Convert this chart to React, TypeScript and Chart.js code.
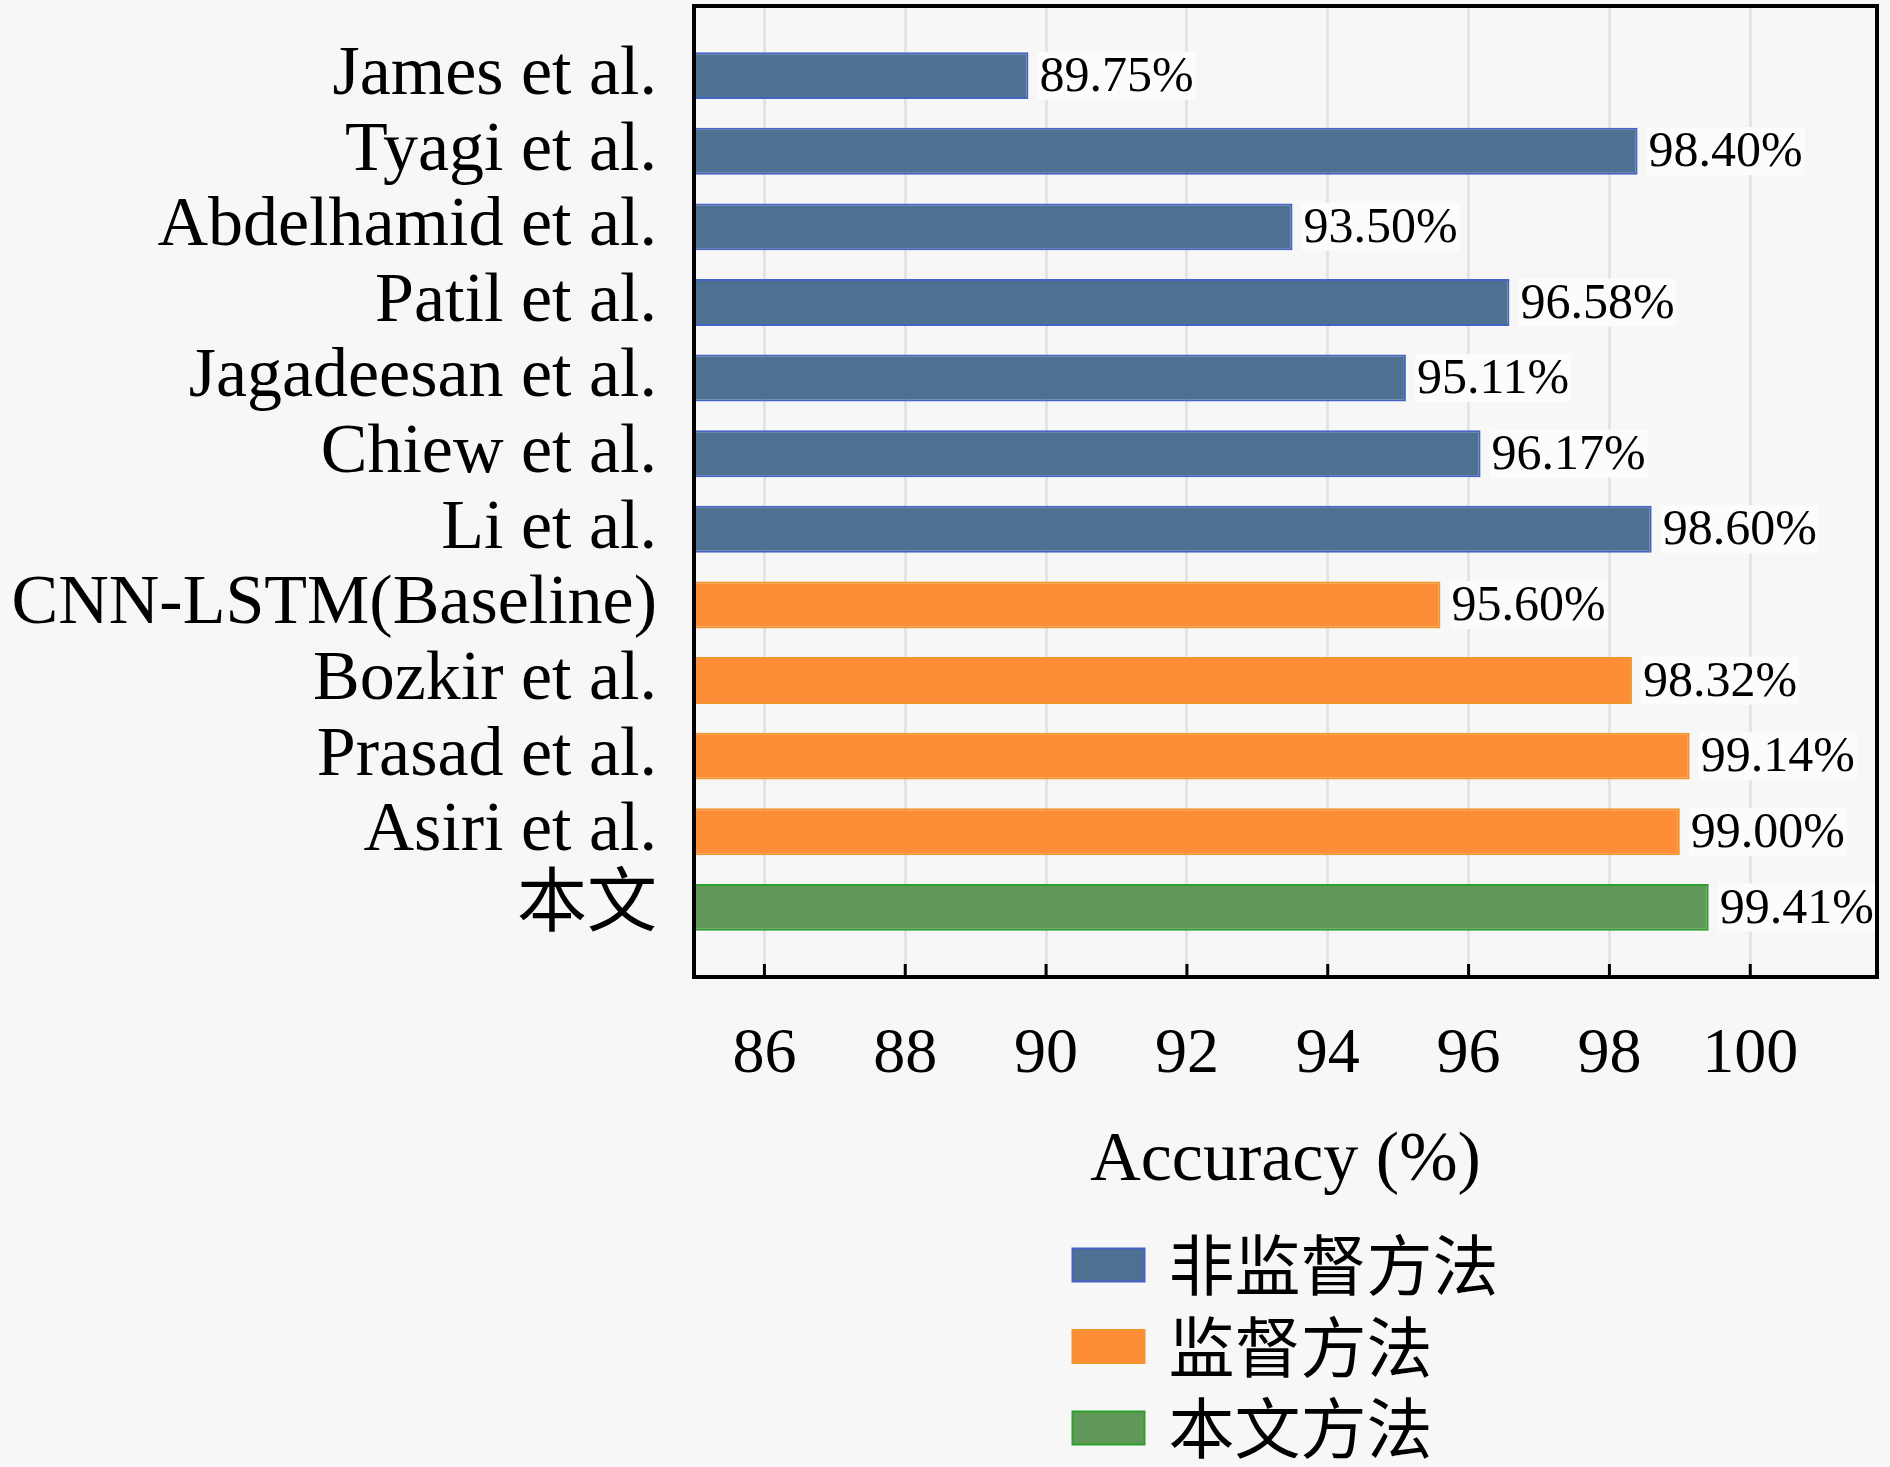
import React, { useEffect, useRef } from "react";
import { Chart, registerables } from "chart.js";

Chart.register(...registerables);

// methods, top to bottom
const methods = [
  "James et al.",
  "Tyagi et al.",
  "Abdelhamid et al.",
  "Patil et al.",
  "Jagadeesan et al.",
  "Chiew et al.",
  "Li et al.",
  "CNN-LSTM(Baseline)",
  "Bozkir et al.",
  "Prasad et al.",
  "Asiri et al.",
  "本文",
];
const accuracy = [89.75, 98.4, 93.5, 96.58, 95.11, 96.17, 98.6, 95.6, 98.32, 99.14, 99.0, 99.41];
const groupOf = [0, 0, 0, 0, 0, 0, 0, 1, 1, 1, 1, 2];
const groupNames = ["非监督方法", "监督方法", "本文方法"];
const xTicks = [86, 88, 90, 92, 94, 96, 98, 100];

const fills = ["#4e7191", "#fd8d36", "#619759"];
const edges = ["#4563c6", "#f0962a", "#2ca02c"];

const SERIF = '"Liberation Serif", "Noto Sans CJK SC", serif';
const CJK = '"Noto Sans CJK SC", sans-serif';

const decorPlugin = {
  id: "decor",
  afterDatasetsDraw(chart: any) {
    const { ctx, chartArea: a, scales } = chart;
    ctx.save();
    // value labels at bar ends
    ctx.font = `50px ${SERIF}`;
    ctx.textBaseline = "middle";
    ctx.textAlign = "left";
    chart.data.datasets.forEach((ds: any, di: number) => {
      chart.getDatasetMeta(di).data.forEach((bar: any, i: number) => {
        const txt = ds.data[i].x.toFixed(2) + "%";
        const w = ctx.measureText(txt).width;
        ctx.fillStyle = "#fcfcfc";
        ctx.fillRect(bar.x + 9, bar.y - 24, w + 4, 48);
        ctx.fillStyle = "#000";
        ctx.fillText(txt, bar.x + 11, bar.y + 2);
      });
    });
    // inward tick marks on the bottom axis
    ctx.strokeStyle = "#000";
    ctx.lineWidth = 3;
    scales.x.ticks.forEach((t: any) => {
      const px = scales.x.getPixelForValue(t.value);
      ctx.beginPath();
      ctx.moveTo(px, a.bottom);
      ctx.lineTo(px, a.bottom - 13);
      ctx.stroke();
    });
    // frame
    ctx.lineWidth = 4;
    ctx.strokeRect(a.left, a.top, a.right - a.left, a.bottom - a.top);
    ctx.restore();
  },
  afterDraw(chart: any) {
    const { ctx, chartArea: a, scales } = chart;
    ctx.save();
    ctx.font = `66px ${CJK}`;
    const textW = Math.max(...groupNames.map((n) => ctx.measureText(n).width));
    const boxW = 72;
    const boxH = 33;
    const gap = 24;
    const left = (a.left + a.right) / 2 - (boxW + gap + textW) / 2;
    let y = scales.x.bottom + 38;
    groupNames.forEach((name, g) => {
      ctx.fillStyle = fills[g];
      ctx.fillRect(left, y - boxH / 2, boxW, boxH);
      ctx.strokeStyle = edges[g];
      ctx.lineWidth = 2;
      ctx.strokeRect(left, y - boxH / 2, boxW, boxH);
      ctx.fillStyle = "#000";
      ctx.textBaseline = "middle";
      ctx.textAlign = "left";
      ctx.fillText(name, left + boxW + gap, y);
      y += 81.5;
    });
    ctx.restore();
  },
};

const App: React.FC = () => {
  const canvasRef = useRef<HTMLCanvasElement | null>(null);

  useEffect(() => {
    if (!canvasRef.current) return;

    const datasets = groupNames.map((name, g) => ({
      label: name,
      data: accuracy
        .map((v, i) => ({ x: v, y: i, g: groupOf[i] }))
        .filter((p) => p.g === g),
      backgroundColor: fills[g],
      borderColor: edges[g],
      borderWidth: 2,
      grouped: false,
      categoryPercentage: 1,
      barPercentage: 0.62,
    }));

    const chart = new Chart(canvasRef.current, {
      type: "bar",
      data: { datasets },
      options: {
        indexAxis: "y",
        animation: false,
        responsive: true,
        maintainAspectRatio: false,
        layout: { padding: { top: 6, right: 13, left: 0, bottom: 240 } },
        plugins: {
          legend: { display: false },
          tooltip: { enabled: false },
        },
        scales: {
          x: {
            type: "linear",
            min: 85,
            max: 101.8,
            border: { display: false },
            grid: { color: "#e4e4e4", lineWidth: 3, drawTicks: false },
            afterBuildTicks: (scale: any) => {
              scale.ticks = xTicks.map((v) => ({ value: v }));
            },
            afterFit: (scale: any) => {
              scale.height = 250;
              scale.paddingLeft = 0;
              scale.paddingRight = 0;
            },
            ticks: {
              autoSkip: false,
              maxRotation: 0,
              padding: 46,
              color: "#000",
              font: { family: SERIF, size: 64, lineHeight: 1 },
            },
            title: {
              display: true,
              text: "Accuracy (%)",
              color: "#000",
              font: { family: SERIF, size: 70, lineHeight: 1 },
              padding: { top: 0, bottom: 30 },
            },
          },
          y: {
            type: "linear",
            reverse: true,
            offset: false,
            min: -0.92,
            max: 11.92,
            border: { display: false },
            grid: { display: false, drawTicks: false, offset: false },
            afterBuildTicks: (scale: any) => {
              scale.ticks = methods.map((_, i) => ({ value: i }));
            },
            afterFit: (scale: any) => {
              scale.width = 694;
              scale.paddingTop = 0;
              scale.paddingBottom = 0;
            },
            ticks: {
              autoSkip: false,
              padding: 37,
              color: "#000",
              font: { family: SERIF, size: 70, lineHeight: 1 },
              callback: (v: any) => methods[v as number] ?? "",
            },
          },
        },
      } as any,
      plugins: [decorPlugin],
    });

    return () => {
      chart.destroy();
    };
  }, []);

  return (
    <div
      style={{
        position: "absolute",
        left: 0,
        top: 0,
        width: 1890,
        height: 1467,
        background: "#f7f7f7",
      }}
    >
      <canvas ref={canvasRef} />
    </div>
  );
};

export default App;
